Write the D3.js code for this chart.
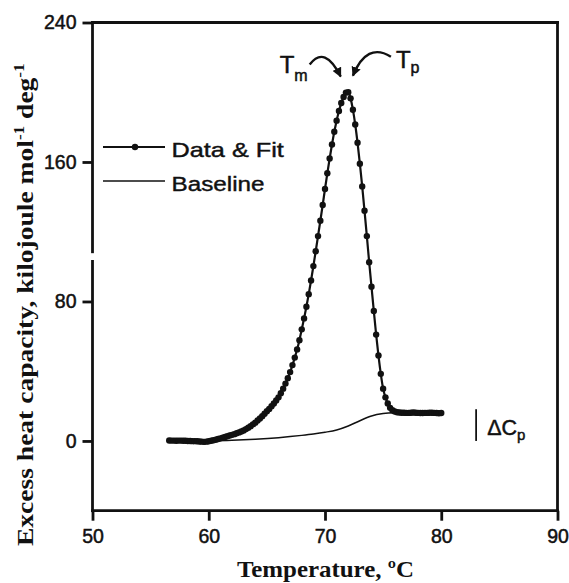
<!DOCTYPE html>
<html><head><meta charset="utf-8">
<script src="https://cdn.jsdelivr.net/npm/d3@7"></script>
<style>body{margin:0;background:#fff}svg{display:block}</style>
</head><body>
<svg id="c" width="569" height="583"></svg>
<script>
const temps = [56.6,56.8,57.0,57.2,57.4,57.6,57.8,58.0,58.2,58.4,58.6,58.8,59.0,59.2,59.4,59.6,59.8,
60.0,60.2,60.4,60.6,60.8,61.0,61.2,61.4,61.6,61.8,62.0,62.2,62.4,62.6,62.8,63.0,63.2,63.4,63.6,63.8,
64.0,64.2,64.4,64.6,64.8,65.0,65.2,65.4,65.6,65.8,66.0,66.2,66.4,66.6,66.8,67.0,67.2,67.4,67.6,67.8,
68.0,68.2,68.4,68.6,68.8,69.0,69.2,69.4,69.6,69.8,70.0,70.2,70.4,70.6,70.8,71.0,71.2,71.4,71.6,71.8,
72.0,72.2,72.4,72.6,72.8,73.0,73.2,73.4,73.6,73.8,74.0,74.2,74.4,74.6,74.8,75.0,75.2,75.4,75.6,75.8,
76.0,76.2,76.4,76.6,76.8,77.0,77.2,77.4,77.6,77.8,78.0,78.2,78.4,78.6,78.8,79.0,79.2,79.4,79.6,79.8,80.0];
const heatCapacity = [0.3,0.2,0.2,0.1,0.2,0.2,0.1,0.1,0.0,0.0,-0.1,-0.1,-0.2,-0.3,-0.4,-0.5,-0.4,
-0.2,0.1,0.4,0.7,1.1,1.5,1.9,2.3,2.7,3.1,3.5,3.9,4.4,4.9,5.4,6.0,6.8,7.6,8.5,9.5,
10.5,11.7,12.9,14.2,15.6,17.0,18.4,19.9,21.5,23.2,25.0,27.4,30.0,32.9,36.0,39.5,43.5,47.8,52.5,57.8,
64.0,70.3,77.0,84.2,92.0,100.3,108.8,117.5,126.3,135.3,144.5,153.5,162.0,170.0,177.3,183.7,189.2,193.8,197.3,199.8,
200.0,196.5,190.0,181.5,171.0,159.0,146.0,132.0,117.5,102.5,88.5,74.5,61.0,49.0,38.5,30.0,25.0,21.5,19.0,17.6,
16.9,16.5,16.3,16.2,16.2,16.1,16.1,16.2,16.3,16.2,16.1,16.0,16.0,16.1,16.1,16.2,16.2,16.1,16.0,15.9,16.0];
const baselineTemps = [56.6,58,60,62,64,66,67,68,69,70,71,72,73,74,75,76,77,78,79,80];
const baselineValues = [0,0,0.1,0.4,1.0,1.9,2.5,3.2,4.0,5.0,6.3,8.6,11.6,14.3,15.7,16.2,16.3,16.3,16.2,16.1];
const xTicks = [50,60,70,80,90];
const yTicks = [0,80,160,240];
const legendLabels = ["Data & Fit","Baseline"];

const svg = d3.select("#c");
const x = d3.scaleLinear().domain([50,90]).range([92.5,557.5]);
const y = d3.scaleLinear().domain([-40,240]).range([510.7,22.5]);
const ink = "#111";
const sans = "Liberation Sans, Arial, sans-serif";
const serif = "Liberation Serif, Times New Roman, serif";

// stretch a text element (drawn at origin, anchor start) to a target width
function fit(g, textSel, width){
  const w = textSel.node().getBBox().width;
  textSel.attr("transform",`scale(${width/w},1)`);
}

// axes
const xAxis = d3.axisBottom(x).tickValues(xTicks).tickSize(10).tickPadding(8);
const gx = svg.append("g").attr("transform",`translate(0,${y(-40)})`).call(xAxis);
gx.select(".domain").remove();
gx.selectAll("line").attr("stroke",ink).attr("stroke-width",2.8);
gx.selectAll("text").attr("font-family",sans).attr("font-size",19.5).attr("fill",ink).attr("stroke",ink).attr("stroke-width",0.5);

const yAxis = d3.axisLeft(y).tickValues(yTicks).tickSize(10).tickPadding(6);
const gy = svg.append("g").attr("transform",`translate(${x(50)},0)`).call(yAxis);
gy.select(".domain").remove();
gy.selectAll("line").attr("stroke",ink).attr("stroke-width",2.8);
gy.selectAll("text").attr("font-family",sans).attr("font-size",19.5).attr("fill",ink).attr("stroke",ink).attr("stroke-width",0.5);

// frame with broken left axis
const frame = svg.append("g").attr("stroke",ink).attr("stroke-width",2.8).attr("fill","none").attr("stroke-linecap","square");
frame.append("line").attr("x1",x(50)).attr("x2",x(90)).attr("y1",y(-40)).attr("y2",y(-40));
frame.append("line").attr("x1",x(50)).attr("x2",x(90)).attr("y1",y(240)).attr("y2",y(240));
frame.append("line").attr("x1",x(90)).attr("x2",x(90)).attr("y1",y(-40)).attr("y2",y(240));
frame.append("line").attr("x1",x(50)).attr("x2",x(50)).attr("y1",y(-40)).attr("y2",y(103));
frame.append("line").attr("x1",x(50)).attr("x2",x(50)).attr("y1",y(108.5)).attr("y2",y(240));

// baseline
const bl = baselineTemps.map((t,i)=>[t,baselineValues[i]]);
svg.append("path").datum(bl)
  .attr("d",d3.line().x(d=>x(d[0])).y(d=>y(d[1])).curve(d3.curveMonotoneX))
  .attr("fill","none").attr("stroke",ink).attr("stroke-width",1.5);

// data & fit
const pts = temps.map((t,i)=>[t,heatCapacity[i]]);
svg.append("path").datum(pts)
  .attr("d",d3.line().x(d=>x(d[0])).y(d=>y(d[1])).curve(d3.curveMonotoneX))
  .attr("fill","none").attr("stroke",ink).attr("stroke-width",2.2);
svg.append("g").selectAll("circle").data(pts).join("circle")
  .attr("cx",d=>x(d[0])).attr("cy",d=>y(d[1])).attr("r",3.2).attr("fill",ink);

// legend
const lg = svg.append("g");
lg.append("line").attr("x1",103).attr("x2",165).attr("y1",147).attr("y2",147).attr("stroke",ink).attr("stroke-width",2);
lg.append("circle").attr("cx",135).attr("cy",147).attr("r",3.2).attr("fill",ink);
lg.append("line").attr("x1",103).attr("x2",165).attr("y1",181).attr("y2",181).attr("stroke",ink).attr("stroke-width",1.5);
[[legendLabels[0],156.5,113],[legendLabels[1],190.5,93]].forEach(([s,yy,w])=>{
  const g = lg.append("g").attr("transform",`translate(171.5,${yy})`);
  const t = g.append("text").attr("font-family",sans).attr("font-size",20).attr("fill",ink)
    .attr("stroke",ink).attr("stroke-width",0.4).text(s);
  fit(g,t,w);
});

// axis titles
const xt = svg.append("g").attr("transform","translate(237,577)");
const xtt = xt.append("text").attr("font-family",serif).attr("font-weight","bold").attr("font-size",22.5).attr("fill",ink)
  .text("Temperature, ºC");
fit(xt,xtt,177);

const ytg = svg.append("g").attr("transform","translate(33,546) rotate(-90)");
const yl = ytg.append("text").attr("font-family",serif).attr("font-weight","bold").attr("font-size",24).attr("fill",ink);
yl.append("tspan").text("Excess heat capacity, kilojoule mol");
yl.append("tspan").attr("dy",-9).attr("font-size",15).text("-1");
yl.append("tspan").attr("dy",9).text(" deg");
yl.append("tspan").attr("dy",-9).attr("font-size",15).text("-1");
fit(ytg,yl,483);

// annotations
const defs = svg.append("defs");
defs.append("marker").attr("id","ah").attr("viewBox","0 0 10 10").attr("refX",9).attr("refY",5)
  .attr("markerWidth",4).attr("markerHeight",4).attr("orient","auto")
  .append("path").attr("d","M0,0L10,5L0,10Z").attr("fill",ink);
const ann = svg.append("g").attr("fill",ink).attr("font-family",sans);
const tmEnd = [x(71.35), y(209)], tpEnd = [x(72.4), y(209.5)];
ann.append("path").attr("d",`M${tmEnd[0]-31},${tmEnd[1]-12} Q${tmEnd[0]-16},${tmEnd[1]-32} ${tmEnd[0]},${tmEnd[1]}`)
  .attr("fill","none").attr("stroke",ink).attr("stroke-width",2.4).attr("marker-end","url(#ah)");
ann.append("path").attr("d",`M${tpEnd[0]+38},${tpEnd[1]-19} Q${tpEnd[0]+14},${tpEnd[1]-34} ${tpEnd[0]},${tpEnd[1]}`)
  .attr("fill","none").attr("stroke",ink).attr("stroke-width",2.4).attr("marker-end","url(#ah)");
const tm = ann.append("text").attr("x",tmEnd[0]-61).attr("y",tmEnd[1]-4).attr("font-size",24)
  .attr("stroke",ink).attr("stroke-width",0.5);
tm.append("tspan").text("T");
tm.append("tspan").attr("dy",8).attr("font-size",16).text("m");
const tp = ann.append("text").attr("x",tpEnd[0]+43).attr("y",tpEnd[1]-8).attr("font-size",24)
  .attr("stroke",ink).attr("stroke-width",0.5);
tp.append("tspan").text("T");
tp.append("tspan").attr("dy",5).attr("font-size",16).text("p");

// delta Cp
ann.append("line").attr("x1",x(83)).attr("x2",x(83)).attr("y1",y(0)).attr("y2",y(18.2)).attr("stroke",ink).attr("stroke-width",1.8);
const dc = ann.append("text").attr("x",x(83)+11).attr("y",y(0)-6).attr("font-size",21.5)
  .attr("stroke",ink).attr("stroke-width",0.5);
dc.append("tspan").text("ΔC");
dc.append("tspan").attr("dy",5).attr("font-size",15).text("p");
</script>
</body></html>
